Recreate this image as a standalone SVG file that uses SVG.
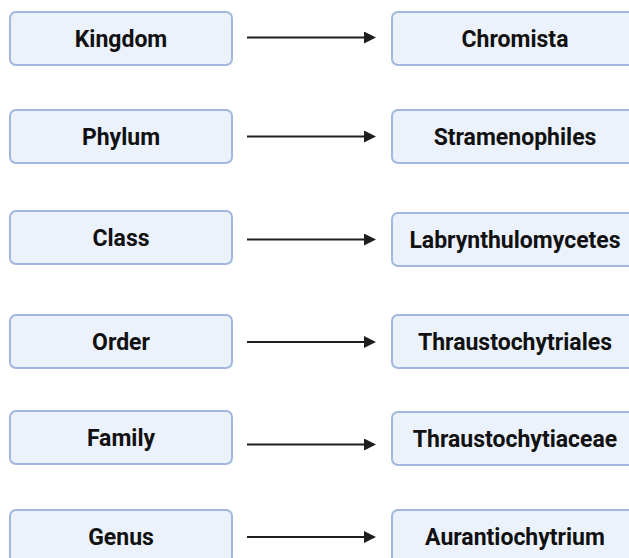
<svg xmlns="http://www.w3.org/2000/svg" width="629" height="558" viewBox="0 0 629 558">
<style>
.box{fill:#ecf2fc;stroke:#a2b7df;stroke-width:2}
.t{font-family:Roboto,"Liberation Sans",sans-serif;font-weight:bold;font-size:23px;fill:#111;text-anchor:middle;dominant-baseline:central}
.c{stroke:#1e1e1e;stroke-width:2;fill:none}
</style>
<defs>
<marker id="ah" markerWidth="12" markerHeight="12" refX="0" refY="6" orient="auto" markerUnits="userSpaceOnUse">
<path d="M0,0 L12,6 L0,12 Z" fill="#1e1e1e"/>
</marker>
</defs>
<g id="kingdom"><rect class="box" x="10" y="12" width="222" height="53" rx="6"/><text class="t" x="121" y="39.5">Kingdom</text></g>
<g id="chromista"><rect class="box" x="392" y="12" width="246" height="53" rx="6"/><text class="t" x="515" y="39.5">Chromista</text></g>
<g id="phylum"><rect class="box" x="10" y="110" width="222" height="53" rx="6"/><text class="t" x="121" y="137.5">Phylum</text></g>
<g id="stramenophiles"><rect class="box" x="392" y="110" width="246" height="53" rx="6"/><text class="t" x="515" y="137.5">Stramenophiles</text></g>
<g id="class"><rect class="box" x="10" y="211" width="222" height="53" rx="6"/><text class="t" x="121" y="238.5">Class</text></g>
<g id="labrynthulomycetes"><rect class="box" x="392" y="213" width="246" height="53" rx="6"/><text class="t" x="515" y="240.5">Labrynthulomycetes</text></g>
<g id="order"><rect class="box" x="10" y="315" width="222" height="53" rx="6"/><text class="t" x="121" y="342.5">Order</text></g>
<g id="thraustochytriales"><rect class="box" x="392" y="315" width="246" height="53" rx="6"/><text class="t" x="515" y="342.5">Thraustochytriales</text></g>
<g id="family"><rect class="box" x="10" y="411" width="222" height="53" rx="6"/><text class="t" x="121" y="438.5">Family</text></g>
<g id="thraustochytiaceae"><rect class="box" x="392" y="412" width="246" height="53" rx="6"/><text class="t" x="515" y="439.5">Thraustochytiaceae</text></g>
<g id="genus"><rect class="box" x="10" y="510" width="222" height="53" rx="6"/><text class="t" x="121" y="537.5">Genus</text></g>
<g id="aurantiochytrium"><rect class="box" x="392" y="510" width="246" height="53" rx="6"/><text class="t" x="515" y="537.5">Aurantiochytrium</text></g>
<g id="connectors">
<line class="c" x1="247" y1="37.5" x2="364" y2="37.5" marker-end="url(#ah)"/>
<line class="c" x1="247" y1="136.5" x2="364" y2="136.5" marker-end="url(#ah)"/>
<line class="c" x1="247" y1="239.5" x2="364" y2="239.5" marker-end="url(#ah)"/>
<line class="c" x1="247" y1="342" x2="364" y2="342" marker-end="url(#ah)"/>
<line class="c" x1="247" y1="444.5" x2="364" y2="444.5" marker-end="url(#ah)"/>
<line class="c" x1="247" y1="537" x2="364" y2="537" marker-end="url(#ah)"/>
</g>
</svg>
